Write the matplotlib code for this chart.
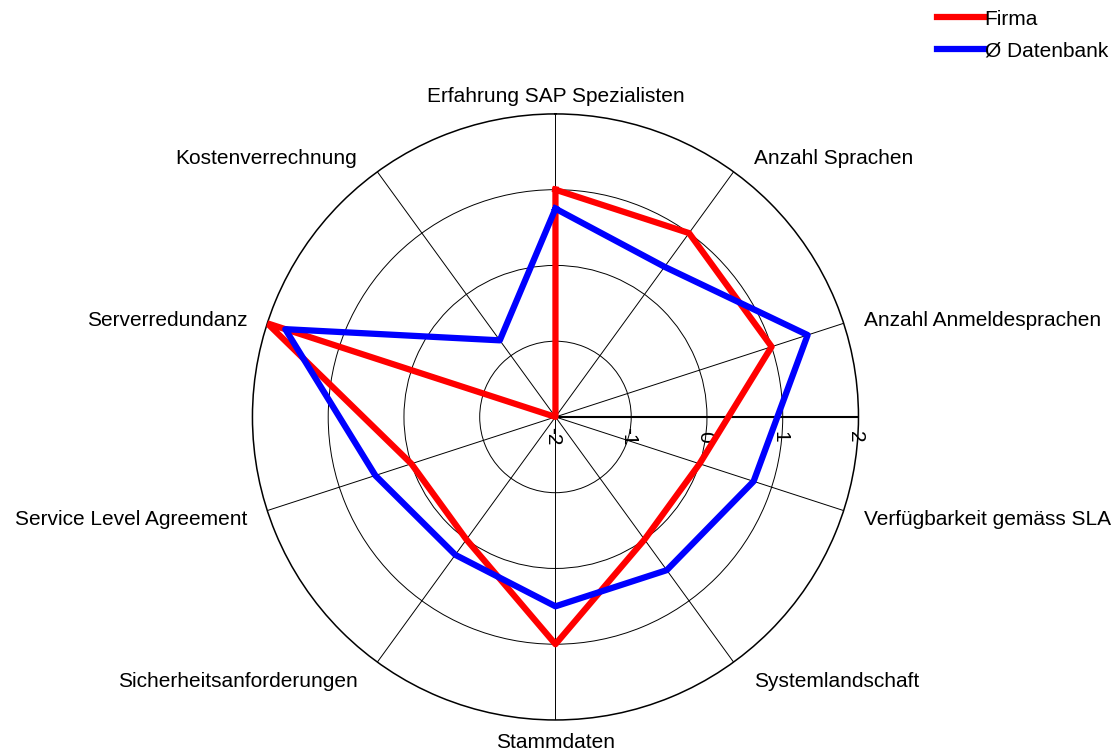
import numpy as np
import matplotlib
matplotlib.use("Agg")
import matplotlib.pyplot as plt

plt.rcParams["font.family"] = ["Liberation Sans", "DejaVu Sans"]

# Data
categories = [
    "Erfahrung SAP Spezialisten",
    "Anzahl Sprachen",
    "Anzahl Anmeldesprachen",
    "Verfügbarkeit gemäss SLA",
    "Systemlandschaft",
    "Stammdaten",
    "Sicherheitsanforderungen",
    "Service Level Agreement",
    "Serverredundanz",
    "Kostenverrechnung",
]
firma = [1.0, 1.0, 1.0, 0.0, 0.0, 1.0, 0.0, 0.0, 2.0, -2.0]
datenbank = [0.75, 0.45, 1.5, 0.75, 0.5, 0.5, 0.25, 0.5, 1.75, -0.75]
r_ticks = [-2, -1, 0, 1, 2]
series_names = ["Firma", "Ø Datenbank"]

n = len(categories)
angles = np.arange(n) * 2 * np.pi / n

fig = plt.figure(figsize=(11.2, 7.52), dpi=100)
ax = fig.add_axes([0.2254, 0.0426, 0.5411, 0.8059], projection="polar")
ax.set_theta_offset(np.pi / 2)
ax.set_theta_direction(-1)
ax.set_ylim(r_ticks[0], r_ticks[-1])

ax.set_thetagrids(np.degrees(angles), labels=[])
ax.set_rgrids(r_ticks[1:-1], labels=[])
ax.grid(True, color="black", linewidth=0.7)
ax.spines["polar"].set_color("black")
ax.spines["polar"].set_linewidth(1.1)

# horizontal value axis
ax.plot([np.pi / 2, np.pi / 2], [r_ticks[0], r_ticks[-1]], color="black", lw=1.5, zorder=3)
for v in r_ticks:
    ax.annotate(str(v), xy=(np.pi / 2, v), xytext=(-2, -14), textcoords="offset points",
                ha="center", va="center", rotation=-90, fontsize=15)

a_closed = np.append(angles, angles[0])
ax.plot(a_closed, firma + firma[:1], color="#ff0000", lw=4.5, label=series_names[0], zorder=4)
ax.plot(a_closed, datenbank + datenbank[:1], color="#0000ff", lw=4.5, label=series_names[1], zorder=4)

# category labels (offsets in pixels -> points)
for a, lab in zip(angles, categories):
    sx, sy = np.sin(a), np.cos(a)
    if abs(sx) < 0.01:
        ha, dx = "center", 0
    elif sx > 0:
        ha, dx = "left", 20
    else:
        ha, dx = "right", -20
    dy = 20 * sy - 3
    ax.annotate(lab, xy=(a, r_ticks[-1]), xytext=(dx * 0.72, dy * 0.72), textcoords="offset points",
                ha=ha, va="center", fontsize=15, annotation_clip=False)

fig.legend(loc="upper right", bbox_to_anchor=(1.006, 1.012), frameon=False, fontsize=15,
           handlelength=2.3, handletextpad=0.0, labelspacing=0.6)

fig.savefig("out.png", dpi=100)
